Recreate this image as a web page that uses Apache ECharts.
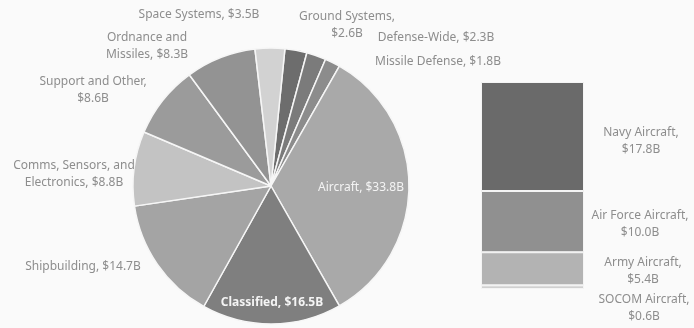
<!DOCTYPE html>
<html>
<head>
<meta charset="utf-8">
<script src="https://cdn.jsdelivr.net/npm/echarts@6/dist/echarts.min.js"></script>
<style>
  html, body { margin: 0; padding: 0; background: #fafafa; }
  #chart { width: 694px; height: 328px; }
</style>
</head>
<body>
<div id="chart"></div>
<script>
// Procurement budget by category (billions of dollars), clockwise from the top
const categories = ['Ground Systems', 'Defense-Wide', 'Missile Defense', 'Aircraft', 'Classified',
  'Shipbuilding', 'Comms, Sensors, and Electronics', 'Support and Other', 'Ordnance and Missiles', 'Space Systems'];
const values = [2.6, 2.3, 1.8, 33.8, 16.5, 14.7, 8.8, 8.6, 8.3, 3.5];

// Breakdown of the Aircraft slice, bottom to top of the stacked column
const aircraftParts = ['SOCOM Aircraft', 'Army Aircraft', 'Air Force Aircraft', 'Navy Aircraft'];
const aircraftValues = [0.6, 5.4, 10.0, 17.8];

// Styling
const sliceColors = ['#6d6d6d', '#7b7b7b', '#8c8c8c', '#a9a9a9', '#7f7f7f',
  '#a4a4a4', '#c3c3c3', '#9b9b9b', '#939393', '#d2d2d2'];
const partColors = ['#d0d0d0', '#b3b3b3', '#909090', '#6a6a6a'];
const FONT = 'Noto Sans';
const TEXT = '#8d8d8d';
const SIZE = 12;

// Label placement for each slice: centre point and where the text wraps
const sliceLabels = [
  { x: 347, y: 25, wrap: 'value' },
  { x: 436, y: 38, wrap: 'none' },
  { x: 438, y: 62, wrap: 'none' },
  { x: 361, y: 188, wrap: 'none', inside: true },
  { x: 272, y: 303, wrap: 'none', inside: true, bold: true },
  { x: 83, y: 267, wrap: 'none' },
  { x: 74, y: 174, wrap: 'Comms, Sensors, and\nElectronics' },
  { x: 93, y: 90, wrap: 'value' },
  { x: 147, y: 46, wrap: 'Ordnance and\nMissiles' },
  { x: 199, y: 15, wrap: 'none' }
];
const partLabels = [
  { x: 644, y: 308 },
  { x: 643, y: 271 },
  { x: 640, y: 224 },
  { x: 641, y: 141 }
];

function money(v) { return '$' + v.toFixed(1) + 'B'; }
function sliceText(i) {
  const spec = sliceLabels[i];
  if (spec.wrap === 'value') return categories[i] + ',\n' + money(values[i]);
  if (spec.wrap !== 'none') return spec.wrap + ', ' + money(values[i]);
  return categories[i] + ', ' + money(values[i]);
}

const chart = echarts.init(document.getElementById('chart'), null, { renderer: 'canvas' });

const pieData = categories.map((name, i) => {
  const spec = sliceLabels[i];
  return {
    name: name,
    value: values[i],
    itemStyle: { color: sliceColors[i] },
    label: {
      color: spec.inside ? '#f4f4f4' : TEXT,
      fontWeight: spec.bold ? 'bold' : 'normal'
    }
  };
});

const barSeries = aircraftParts.map((name, i) => ({
  name: name,
  type: 'bar',
  stack: 'aircraft',
  barWidth: '100%',
  data: [aircraftValues[i]],
  itemStyle: { color: partColors[i], borderColor: '#f4f4f4', borderWidth: 1 },
  label: {
    show: true,
    formatter: () => name + ',\n' + money(aircraftValues[i]),
    color: TEXT,
    fontFamily: FONT,
    fontSize: SIZE,
    lineHeight: 17,
    align: 'center'
  },
  labelLayout: () => ({ x: partLabels[i].x, y: partLabels[i].y, align: 'center', verticalAlign: 'middle' }),
  emphasis: { disabled: true },
  animation: false
}));

chart.setOption({
  backgroundColor: '#fafafa',
  animation: false,
  grid: { left: 481, width: 103, top: 82, bottom: 39 },
  xAxis: { type: 'category', data: ['Aircraft'], show: false },
  yAxis: { type: 'value', min: 0, max: 33.8, show: false },
  series: [
    {
      type: 'pie',
      center: [271, 186],
      radius: 138,
      startAngle: 84.2,
      clockwise: true,
      avoidLabelOverlap: false,
      data: pieData,
      itemStyle: { borderColor: '#f6f6f6', borderWidth: 1.5 },
      label: {
        show: true,
        formatter: p => sliceText(p.dataIndex),
        fontFamily: FONT,
        fontSize: SIZE,
        lineHeight: 17,
        align: 'center'
      },
      labelLine: { show: false },
      labelLayout: p => ({
        x: sliceLabels[p.dataIndex].x,
        y: sliceLabels[p.dataIndex].y,
        align: 'center',
        verticalAlign: 'middle'
      }),
      emphasis: { disabled: true }
    },
    ...barSeries
  ]
});
</script>
</body>
</html>
